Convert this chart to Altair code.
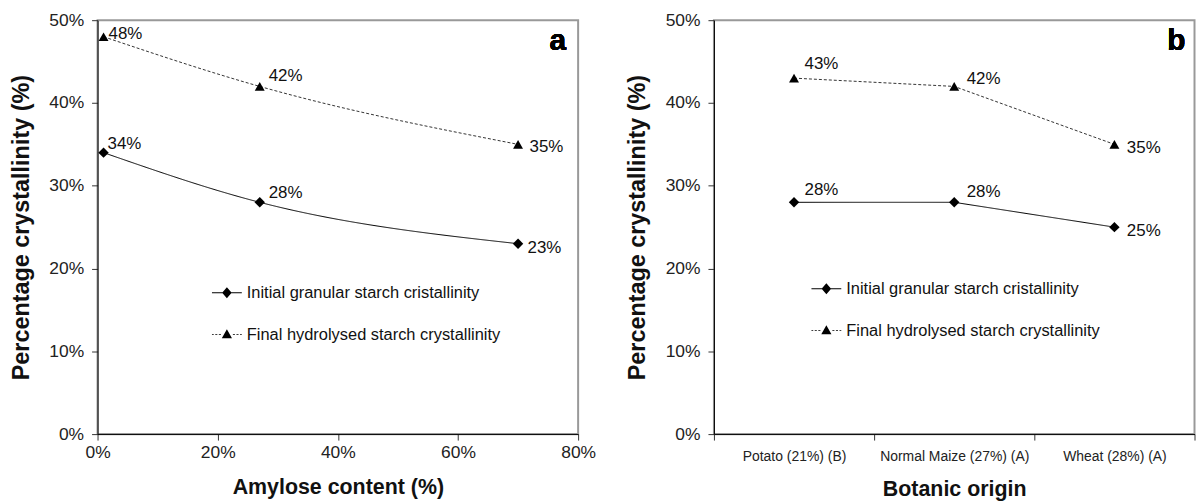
import altair as alt
import pandas as pd

# ---------------- data ----------------
amylose = [1, 27, 70]
initial_a = [34, 28, 23]
final_a = [48, 42, 35]

origins = ["Potato (21%) (B)", "Normal Maize (27%) (A)", "Wheat (28%) (A)"]
initial_b = [28, 28, 25]
final_b = [43, 42, 35]

series_names = ["Initial granular starch cristallinity",
                "Final hydrolysed starch crystallinity"]
y_ticks = [0, 10, 20, 30, 40, 50]
x_ticks_a = [0, 20, 40, 60, 80]


def make_df(xs, ini, fin):
    rows = []
    for sid, (s, vals) in enumerate(zip(series_names, [ini, fin])):
        for i, (x, v) in enumerate(zip(xs, vals)):
            rows.append({"x": x, "value": v, "series": s, "idx": i,
                         "sid": sid, "label": f"{v}%"})
    return pd.DataFrame(rows)


df_a = make_df(amylose, initial_a, final_a)
df_b = make_df(origins, initial_b, final_b)

FONT = "Liberation Sans"
W, H = 483, 416

# legend glyphs: line (thin filled bars) with the marker in the middle
legend_paths = [
    "M-1,-0.035H1V0.035H-1Z"
    "M0,-0.37L0.32,0L0,0.37L-0.32,0Z",
    "M-1,-0.03H-0.88V0.03H-1Z"
    "M-0.78,-0.03H-0.64V0.03H-0.78Z"
    "M-0.54,-0.03H-0.4V0.03H-0.54Z"
    "M0.4,-0.03H0.54V0.03H0.4Z"
    "M0.64,-0.03H0.78V0.03H0.64Z"
    "M0.88,-0.03H1V0.03H0.88Z"
    "M0,-0.36L0.34,0.24L-0.34,0.24Z",
]

y_enc = alt.Y("value:Q", scale=alt.Scale(domain=[0, 50], nice=False),
              axis=alt.Axis(values=y_ticks, labelExpr="datum.value + '%'",
                            title="Percentage crystallinity (%)",
                            titleFontSize=23.5, titlePadding=15.5,
                            labelPadding=8, tickSize=6))


def panel(df, x_enc, letter, letter_x, interp, leg_x, leg_y, label_specs):
    base = alt.Chart(df)
    line = base.mark_line(strokeWidth=1, interpolate=interp).encode(
        x=x_enc, y=y_enc,
        detail="series:N",
        strokeDash=alt.StrokeDash("series:N",
                                  scale=alt.Scale(domain=series_names, range=[[1, 0], [3, 2]]),
                                  legend=None),
        color=alt.Color("series:N",
                        scale=alt.Scale(domain=series_names, range=["#000000", "#333333"]),
                        legend=None),
    )
    pts = base.mark_point(filled=True, opacity=1, color="black").encode(
        x=x_enc, y=y_enc,
        shape=alt.Shape("series:N",
                        scale=alt.Scale(domain=series_names, range=["diamond", "triangle-up"]),
                        legend=None),
        size=alt.Size("series:N",
                      scale=alt.Scale(domain=series_names, range=[110, 100]),
                      legend=None),
    )
    leg = base.mark_point(filled=True, color="black", opacity=1, size=0).encode(
        x=x_enc, y=y_enc,
        shape=alt.Shape("series:N",
                        scale=alt.Scale(domain=series_names, range=legend_paths),
                        legend=alt.Legend(
                            title=None, orient="none", legendX=leg_x, legendY=leg_y,
                            symbolSize=900, symbolStrokeWidth=0,
                            symbolFillColor="black",
                            symbolOpacity=1,
                            labelFontSize=16.5, labelFont=FONT, labelColor="#111",
                            labelOffset=5, rowPadding=18, padding=0,
                            labelLimit=400)),
    )
    layers = [line, pts, leg]
    for flt, dx, dy in label_specs:
        layers.append(base.transform_filter(flt).mark_text(
            align="left", baseline="middle", dx=dx, dy=dy, fontSize=17, font=FONT, color="#111"
        ).encode(x=x_enc, y=y_enc, text="label:N"))
    letter_mark = alt.Chart(df).mark_text(
        text=letter, fontSize=30, fontWeight="bold", font=FONT, align="right",
        baseline="alphabetic", color="black"
    ).encode(x=alt.value(letter_x), y=alt.value(30))
    layers.append(letter_mark)
    return alt.layer(*layers).resolve_scale(shape="independent", size="independent").properties(
        width=W, height=H)


x_a = alt.X("x:Q", scale=alt.Scale(domain=[0, 80], nice=False),
            axis=alt.Axis(values=x_ticks_a, labelExpr="datum.value + '%'",
                          labelFlush=False,
                          title="Amylose content (%)", titleFontSize=21.5,
                          labelPadding=4, titlePadding=15, tickSize=6))
x_b = alt.X("x:N", sort=origins,
            scale=alt.Scale(type="band", paddingInner=0, paddingOuter=0),
            axis=alt.Axis(tickBand="extent", labelAngle=0, title="Botanic origin",
                          labelFontSize=14, titleFontSize=21.5, labelPadding=10,
                          titlePadding=15, tickSize=6))

panel_a = panel(df_a, x_a, "a", W - 12, "monotone", 115, 259,
                [("datum.idx == 2 && datum.sid == 0", 9.5, 4),
                 ("datum.idx == 2 && datum.sid == 1", 11.5, 3),
                 ("datum.idx == 0 && datum.sid == 0", 4, -8.5),
                 ("datum.idx == 1 && datum.sid == 0", 9, -9),
                 ("datum.idx == 1 && datum.sid == 1", 9, -10),
                 ("datum.idx == 0 && datum.sid == 1", 5, -2.5)])
panel_b = panel(df_b, x_b, "b", W - 9, "linear", 98, 255,
                [("datum.idx == 2", 12.5, 3.5),
                 ("datum.idx == 0 && datum.sid == 1", 10.5, -14),
                 ("datum.idx == 0 && datum.sid == 0", 10.5, -12.5),
                 ("datum.idx == 1 && datum.sid == 1", 12.5, -7),
                 ("datum.idx == 1 && datum.sid == 0", 12.5, -10)])

chart = alt.hconcat(panel_a, panel_b, spacing=27.5).properties(
    padding={"left": 0, "top": 1, "right": 0, "bottom": 0}
).configure(font=FONT).configure_view(
    stroke="#999999", strokeWidth=2
).configure_axis(
    grid=False, domainColor="black", domainWidth=1, tickColor="#333", tickSize=6,
    labelFontSize=17.5, labelColor="#222", labelFont=FONT, titleFont=FONT,
    titleFontWeight="bold", titleColor="#111", labelPadding=4
)

chart.save("out.html", embed_options={"renderer": "svg", "actions": False})
